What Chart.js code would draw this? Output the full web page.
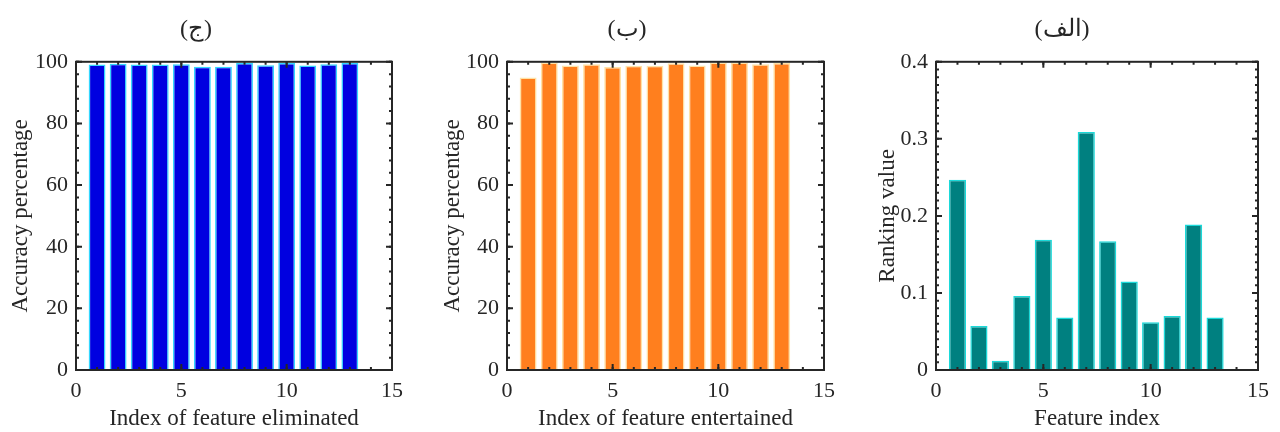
<!DOCTYPE html>
<html>
<head>
<meta charset="utf-8">
<script src="https://cdn.jsdelivr.net/npm/chart.js@4.4.1/dist/chart.umd.min.js"></script>
<style>
  body { margin: 0; background: #fff; overflow: hidden; }
  .box { position: absolute; top: 0; height: 432px; }
</style>
</head>
<body>
<div class="box" style="left:0px;width:416px"><canvas id="c1"></canvas></div>
<div class="box" style="left:430px;width:420px"><canvas id="c2"></canvas></div>
<div class="box" style="left:866px;width:414px"><canvas id="c3"></canvas></div>
<script>
// feature indices 1..13
const featureIdx = [1, 2, 3, 4, 5, 6, 7, 8, 9, 10, 11, 12, 13]

// (ج) accuracy when a feature is eliminated
const accEliminated = [99.1, 99.4, 99.1, 99.1, 99.2, 98.4, 98.4, 99.6, 98.9, 99.6, 98.8, 99.2, 99.6]
// (ب) accuracy when a feature is entertained
const accEntertained = [94.9, 99.8, 98.8, 99.2, 98.3, 98.7, 98.7, 99.5, 98.8, 99.8, 99.8, 99.2, 99.6]
// (الف) ranking value of each feature
const rankValue = [0.247, 0.057, 0.012, 0.096, 0.169, 0.068, 0.309, 0.167, 0.115, 0.062, 0.070, 0.189, 0.068]

const xTicks = [0, 5, 10, 15]
const accTicks = [0, 20, 40, 60, 80, 100]
const rankTicks = [0, 0.1, 0.2, 0.3, 0.4]

const FONT = "'Liberation Serif', 'Times New Roman', serif"
const INK = '#262626'

// MATLAB style box with inward ticks on all four sides
const boxTicks = {
    id: 'boxTicks',
    afterDatasetsDraw(chart, args, opts) {
        const {ctx, chartArea: a, scales: {x, y}} = chart
        ctx.save()
        ctx.strokeStyle = INK
        ctx.lineWidth = 2
        const tick = (px, horiz, len) => {
            ctx.beginPath()
            if (horiz) {
                ctx.moveTo(px, a.bottom); ctx.lineTo(px, a.bottom - len)
                ctx.moveTo(px, a.top); ctx.lineTo(px, a.top + len)
            } else {
                ctx.moveTo(a.left, px); ctx.lineTo(a.left + len, px)
                ctx.moveTo(a.right, px); ctx.lineTo(a.right - len, px)
            }
            ctx.stroke()
        }
        for (let v = x.min; v <= x.max + 1e-9; v += opts.xMinor) tick(x.getPixelForValue(v), true, 3)
        for (let v = y.min; v <= y.max + 1e-9; v += opts.yMinor) tick(y.getPixelForValue(v), false, 3)
        x.ticks.forEach(t => tick(x.getPixelForValue(t.value), true, 6))
        y.ticks.forEach(t => tick(y.getPixelForValue(t.value), false, 6))
        ctx.strokeRect(a.left, a.top, a.right - a.left, a.bottom - a.top)
        ctx.restore()
    }
}

const makeChart = (id, title, values, fill, edge, yTicks, yMax, yMinor, xTitle, yTitle, yWidth, rightPad, yTitlePad) => {
    return new Chart(document.getElementById(id), {
        type: 'bar',
        data: {
            datasets: [{
                data: featureIdx.map((f, i) => ({x: f, y: values[i]})),
                backgroundColor: fill,
                borderColor: edge,
                borderWidth: 1.5,
                barPercentage: 0.8,
                categoryPercentage: 1
            }]
        },
        plugins: [boxTicks],
        options: {
            responsive: true,
            maintainAspectRatio: false,
            animation: false,
            layout: {padding: {top: 0, right: rightPad, bottom: 0, left: 0}},
            plugins: {
                legend: {display: false},
                tooltip: {enabled: false},
                title: {
                    display: true,
                    text: title,
                    color: INK,
                    font: {family: FONT, size: 24, weight: 'normal'},
                    padding: {top: 15, bottom: 18}
                },
                boxTicks: {xMinor: 1, yMinor: yMinor}
            },
            scales: {
                x: {
                    type: 'linear',
                    min: 0, max: 15,
                    offset: false,
                    grid: {display: false, drawTicks: false},
                    border: {display: false},
                    afterBuildTicks: s => { s.ticks = xTicks.map(v => ({value: v})) },
                    afterFit: s => { s.height = 62 },
                    ticks: {color: INK, font: {family: FONT, size: 22}, padding: 8, maxRotation: 0},
                    title: {display: true, text: xTitle, color: INK, font: {family: FONT, size: 23}, padding: {top: 0, bottom: -1}}
                },
                y: {
                    min: 0, max: yMax,
                    grid: {display: false, drawTicks: false},
                    border: {display: false},
                    afterBuildTicks: s => { s.ticks = yTicks.map(v => ({value: v})) },
                    afterFit: s => { s.width = yWidth },
                    ticks: {color: INK, font: {family: FONT, size: 22}, padding: 8},
                    title: {display: true, text: yTitle, color: INK, font: {family: FONT, size: 23}, padding: {top: yTitlePad, bottom: 0}}
                }
            }
        }
    })
}

makeChart('c1', '(ج)', accEliminated, '#0000e0', '#33d6ff', accTicks, 100, 4,
    'Index of feature eliminated', 'Accuracy percentage', 76, 24, 7)
makeChart('c2', '(ب)', accEntertained, '#ff7f1e', '#ffe2a6', accTicks, 100, 4,
    'Index of feature entertained', 'Accuracy percentage', 77, 26, 9)
makeChart('c3', '(الف)', rankValue, '#008080', '#1ad9d9', rankTicks, 0.4, 0.01,
    'Feature index', 'Ranking value', 70, 22, 8)
</script>
</body>
</html>
